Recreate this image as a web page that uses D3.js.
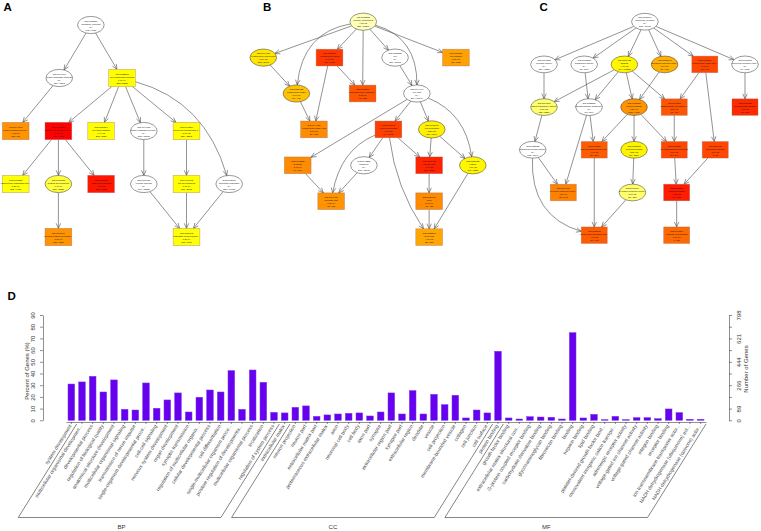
<!DOCTYPE html>
<html><head><meta charset="utf-8">
<script src="https://cdn.jsdelivr.net/npm/d3@7"></script>
<style>body{margin:0;background:#fff}svg{display:block}</style>
</head><body>
<svg id="chart" width="761" height="531"></svg>
<script>
// ================= DATA: panel D (GO term bar chart) =================
const bpTerms = ["system development","multicellular organismal developmen...","developmental process","regulation of biological quality","anatomical structure development","multicellular organismal signaling","transmission of nerve impulse","single-organism developmental proce...","cell-cell signaling","nervous system development","organ development","synaptic transmission","regulation of multicellular organis...","cellular developmental process","cell differentiation","single-multicellular organism proce...","positive regulation of developmenta...","multicellular organismal process","localization","regulation of system process"];
const bpPercent = [31.0,32.8,37.6,24.2,34.5,9.4,8.8,31.9,10.3,17.4,23.4,7.1,19.7,25.9,24.2,42.5,9.4,43.0,32.5,6.8];
const ccTerms = ["extracellular matrix","neuron projection","neuron part","extracellular matrix part","proteinaceous extracellular matrix","axon","neuronal cell body","cell body","axon part","synapse","extracellular region part","synapse part","extracellular region","dendrite","vesicle","cell projection","membrane-bounded vesicle","collagen","cell junction","cell surface"];
const ccPercent = [6.3,11.1,12.3,3.4,4.6,5.4,6.0,6.3,3.7,7.1,23.4,5.4,25.4,5.4,22.2,13.4,21.4,2.0,8.8,6.3];
const mfTerms = ["protein binding","growth factor binding","extracellular matrix structural con...","G-protein coupled receptor binding","carbohydrate derivative binding","glycosaminoglycan binding","fibronectin binding","binding","heparin binding","lipid binding","platelet-derived growth factor bind...","monovalent inorganic cation transpo...","adrenergic receptor activity","voltage-gated ion channel activity","voltage-gated channel activity","integrin binding","receptor binding","ion transmembrane transporter activ...","NADH dehydrogenase (ubiquinone) act...","NADH dehydrogenase (quinone) activ..."];
const mfPercent = [59.0,2.0,1.1,3.1,2.8,2.6,1.1,74.9,2.0,5.1,0.6,3.4,0.6,2.3,2.3,1.4,9.7,6.6,0.9,0.9];
const groupNames = ["BP","CC","MF"];
const percentTicks = [0,10,20,30,40,50,60,70,80,90];
const geneTickLabels = ["0","89","","266","","444","","621","","798"];

// ================= DATA: panels A-C (GO DAGs) =================
// p = p-value (null = not significant / white), top = among top-scoring nodes (drawn as box)
const nodesA = [
 {id:"A1",go:"GO:0008150",term:"biological_process",p:null,n:"792 / 1637",top:false},
 {id:"A2",go:"GO:0044699",term:"single-organism process",p:null,n:"681 / 1302",top:false},
 {id:"A3",go:"GO:0032502",term:"developmental process",p:"1.0e-04",n:"333 / 5288",top:true},
 {id:"A4",go:"GO:0044707",term:"single-multicellular org...",p:"6.3e-09",n:"377 / 55",top:true},
 {id:"A5",go:"GO:0048856",term:"anatomical structure dev...",p:"1.1e-13",n:"306 / 4871",top:true},
 {id:"A6",go:"GO:0030154",term:"cell differentiation",p:"9.4e-05",n:"215 / 3021",top:true},
 {id:"A7",go:"GO:0044763",term:"single-organism cellular...",p:null,n:"563 / 10811",top:false},
 {id:"A8",go:"GO:0048869",term:"cellular developmental p...",p:"8.7e-05",n:"229 / 3262",top:true},
 {id:"A9",go:"GO:0007275",term:"multicellular organismal dev...",p:"1.2e-04",n:"275 / 4105",top:true},
 {id:"A10",go:"GO:0048731",term:"system development",p:"6.9e-04",n:"276 / 3725",top:false},
 {id:"A11",go:"GO:0048513",term:"organ development",p:"4.0e-13",n:"208 / 2468",top:true},
 {id:"A12",go:"GO:0009987",term:"cellular process",p:null,n:"710 / 13858",top:false},
 {id:"A13",go:"GO:0048468",term:"cell development",p:"1.1e-04",n:"151 / 2015",top:true},
 {id:"A14",go:"GO:0065007",term:"biological regulation",p:null,n:"520 / 10026",top:false},
 {id:"A15",go:"GO:0007399",term:"nervous system developm...",p:"5.8e-09",n:"155 / 1829",top:true},
 {id:"A16",go:"GO:0050793",term:"regulation of developme...",p:"1.3e-04",n:"113 / 1450",top:true}
];
const edgesA = [["A1","A2",0],["A1","A3",0],["A2","A4",0],["A3","A5",0],["A3","A6",0],["A3","A7",0],["A3","A8",0],["A3","A14",0.28],
 ["A5","A9",0],["A5","A10",0],["A5","A11",0],["A10","A15",0],["A7","A12",0],["A8","A13",0],["A12","A16",0],["A13","A16",0],["A14","A16",0]];
const layoutA = {A1:[0,1.76],A2:[1,1.02],A3:[1,2.49],A4:[2,0],A5:[2,1],A6:[2,2],A7:[2,3],A8:[2,4],
 A9:[3,0],A10:[3,1],A11:[3,2],A12:[3,3],A13:[3,4],A14:[3,5],A15:[4,1],A16:[4,4]};

const nodesB = [
 {id:"B1",go:"GO:0005575",term:"cellular_component",p:"4.2e-02",n:"826 / 17201",top:false},
 {id:"B2",go:"GO:0044421",term:"extracellular region part",p:"1.0e-05",n:"226 / 2993",top:false},
 {id:"B3",go:"GO:0005576",term:"extracellular region",p:"3.6e-12",n:"245 / 3411",top:true},
 {id:"B4",go:"GO:0005623",term:"cell",p:null,n:"811 / 16611",top:false},
 {id:"B5",go:"GO:0030054",term:"cell junction",p:"2.3e-08",n:"81 / 1037",top:true},
 {id:"B6",go:"GO:0031012",term:"extracellular matrix",p:"5.0e-07",n:"57 / 418",top:false},
 {id:"B7",go:"GO:0005578",term:"proteinaceous extracellul...",p:"2.5e-11",n:"42 / 351",top:true},
 {id:"B8",go:"GO:0044464",term:"cell part",p:null,n:"810 / 16604",top:false},
 {id:"B9",go:"GO:0044420",term:"extracellular matrix part",p:"2.7e-09",n:"31 / 187",top:true},
 {id:"B10",go:"GO:0043005",term:"neuron projection",p:"6.0e-12",n:"99 / 1002",top:true},
 {id:"B11",go:"GO:0042995",term:"cell projection",p:"2.5e-05",n:"119 / 1849",top:false},
 {id:"B12",go:"GO:0045202",term:"synapse",p:"2.7e-09",n:"64 / 671",top:true},
 {id:"B13",go:"GO:0043226",term:"organelle",p:null,n:"598 / 12911",top:false},
 {id:"B14",go:"GO:0097458",term:"neuron part",p:"1.0e-12",n:"109 / 1188",top:true},
 {id:"B15",go:"GO:0031982",term:"vesicle",p:"4.7e-05",n:"197 / 3529",top:false},
 {id:"B16",go:"GO:0044456",term:"synapse part",p:"6.3e-09",n:"48 / 459",top:true},
 {id:"B17",go:"GO:0030424",term:"axon",p:"2.7e-09",n:"48 / 420",top:true},
 {id:"B18",go:"GO:0033267",term:"axon part",p:"4.0e-08",n:"33 / 215",top:true}
];
const edgesB = [["B1","B2",0],["B1","B6",-0.38],["B1","B3",0],["B1","B7",0],["B1","B4",0],["B1","B8",0.38],["B1","B5",0],
 ["B2","B6",0],["B3","B7",0],["B3","B9",0],["B6","B9",0],["B4","B8",0],["B8","B10",0],["B8","B11",0],["B8","B12",0],["B8","B15",0.29],
 ["B10","B13",0],["B10","B14",0],["B10","B16",-0.27],["B10","B18",-0.12],["B11","B14",0],["B11","B15",0],
 ["B12","B16",0],["B13","B16",0],["B14","B17",0],["B17","B18",0],["B15","B18",0]];
const layoutB = {B1:[0,3.02],B2:[1,0],B3:[1,2],B4:[1,3.98],B5:[1,5.82],B6:[2,1],B7:[2,3],B8:[2,4.64],
 B9:[3,1.53],B10:[3,3.78],B11:[3,5.09],B12:[4,1.04],B13:[4,3.04],B14:[4,5.01],B15:[4,6.33],B16:[5,2.05],B17:[5,5.01],B18:[6,5.01]};

const nodesC = [
 {id:"C1",go:"GO:0003674",term:"molecular_function",p:null,n:"808 / 16911",top:false},
 {id:"C2",go:"GO:0004872",term:"receptor activity",p:null,n:"126 / 1883",top:false},
 {id:"C3",go:"GO:0005215",term:"transporter activity",p:null,n:"63 / 1104",top:false},
 {id:"C4",go:"GO:0005488",term:"binding",p:"4.7e-05",n:"664 / 13235",top:false},
 {id:"C5",go:"GO:0005198",term:"structural molecule activ...",p:"1.0e-07",n:"50 / 717",top:false},
 {id:"C6",go:"GO:0005201",term:"extracellular matrix stru...",p:"1.0e-11",n:"22 / 101",top:true},
 {id:"C7",go:"GO:0098772",term:"molecular function regul...",p:null,n:"91 / 1639",top:false},
 {id:"C8",go:"GO:0004871",term:"signal transducer activity",p:"3.6e-03",n:"138 / 2230",top:false},
 {id:"C9",go:"GO:0022857",term:"transmembrane transport...",p:null,n:"51 / 866",top:false},
 {id:"C10",go:"GO:0005515",term:"protein binding",p:"6.3e-09",n:"523 / 9631",top:false},
 {id:"C11",go:"GO:0097367",term:"carbohydrate derivative b...",p:"2.5e-11",n:"48 / 466",top:true},
 {id:"C12",go:"GO:0019838",term:"growth factor binding",p:"1.6e-12",n:"18 / 130",top:true},
 {id:"C13",go:"GO:0038023",term:"signaling receptor activity",p:null,n:"103 / 1549",top:false},
 {id:"C14",go:"GO:0008324",term:"cation transmembrane tra...",p:"4.0e-11",n:"30 / 398",top:true},
 {id:"C15",go:"GO:0005102",term:"receptor binding",p:"3.8e-05",n:"86 / 1369",top:false},
 {id:"C16",go:"GO:0005539",term:"glycosaminoglycan binding",p:"1.0e-11",n:"21 / 194",top:true},
 {id:"C17",go:"GO:0001968",term:"fibronectin binding",p:"1.0e-11",n:"9 / 29",top:true},
 {id:"C18",go:"GO:0004930",term:"G-protein coupled recept...",p:"1.0e-09",n:"55 / 843",top:true},
 {id:"C19",go:"GO:0001664",term:"G-protein coupled recept...",p:"3.6e-03",n:"21 / 271",top:false},
 {id:"C20",go:"GO:0008201",term:"heparin binding",p:"6.3e-13",n:"17 / 153",top:true},
 {id:"C21",go:"GO:0015077",term:"monovalent inorganic cati...",p:"4.0e-11",n:"15 / 148",top:true},
 {id:"C22",go:"GO:0043394",term:"proteoglycan binding",p:"1.0e-10",n:"7 / 28",top:true}
];
const edgesC = [["C1","C2",0],["C1","C3",0],["C1","C4",0],["C1","C5",0],["C1","C6",0],["C1","C7",0],
 ["C2","C8",0],["C3","C9",0],["C4","C8",0],["C4","C9",0],["C4","C10",0],["C4","C11",0],["C5","C10",0],["C6","C11",0],["C6","C17",0],["C7","C12",0],
 ["C8","C13",0],["C9","C18",0],["C9","C14",0],["C10","C14",0],["C10","C15",0],["C10","C16",0],["C11","C16",0],
 ["C13","C18",0],["C13","C21",-0.39],["C14","C21",0],["C15","C19",0],["C16","C20",0],["C17","C20",0],["C19","C21",0],["C20","C22",0]];
const layoutC = {C1:[0,2.51],C2:[1,0],C3:[1,1],C4:[1,2],C5:[1,3],C6:[1,4],C7:[1,5],
 C8:[2,0],C9:[2,1.12],C10:[2,2.24],C11:[2,3.24],C12:[2,5],
 C13:[3,-0.28],C14:[3,1.25],C15:[3,2.24],C16:[3,3.24],C17:[3,4.26],
 C18:[4,0.48],C19:[4,2.2],C20:[4,3.3],C21:[5,1.25],C22:[5,3.3]};

// ================= DRAWING =================
(function(){
const svg = d3.select("#chart");
const FONT = "'Liberation Sans', Arial, Helvetica, sans-serif";

// significance colour scale (-log10 p)
const sigColor = d3.scaleLinear().domain([1,4,7,10,13])
  .range(["#FFFFD2","#FFFF00","#FFB000","#FF6A00","#FF0000"]).clamp(true);

function drawGraph(nodes, edges, layout, xs, ys, box, ell) {
  const g = svg.append("g");
  const pos = {};
  nodes.forEach(n => { pos[n.id] = {x: xs(layout[n.id][1]), y: ys(layout[n.id][0]), n}; });
  function boundary(id, dx, dy) {
    const P = pos[id];
    let t;
    if (P.n.top) t = Math.min(box.w/2/Math.abs(dx||1e-9), box.h/2/Math.abs(dy||1e-9));
    else t = 1/Math.sqrt((dx/ell.rx)**2 + (dy/ell.ry)**2);
    return [P.x + dx*t, P.y + dy*t];
  }
  const eg = g.append("g").attr("fill","none").attr("stroke","#4a4a4a").attr("stroke-width",0.6);
  edges.forEach(([s,t,b]) => {
    const S = pos[s], T = pos[t];
    const dx = T.x - S.x, dy = T.y - S.y;
    const cx = (S.x+T.x)/2 + b*dy, cy = (S.y+T.y)/2 - b*dx;
    const p0 = b === 0 ? boundary(s, dx, dy) : boundary(s, cx - S.x, cy - S.y);
    const p2 = b === 0 ? boundary(t, -dx, -dy) : boundary(t, cx - T.x, cy - T.y);
    const path = d3.path();
    path.moveTo(p0[0], p0[1]);
    if (b === 0) path.lineTo(p2[0], p2[1]);
    else path.quadraticCurveTo(cx, cy, p2[0], p2[1]);
    eg.append("path").attr("d", path.toString());
    const ang = b === 0 ? Math.atan2(p2[1]-p0[1], p2[0]-p0[0]) : Math.atan2(p2[1]-cy, p2[0]-cx);
    const L = 5.5, a = 0.42;
    const h = d3.path();
    h.moveTo(p2[0] - L*Math.cos(ang - a), p2[1] - L*Math.sin(ang - a));
    h.lineTo(p2[0], p2[1]);
    h.lineTo(p2[0] - L*Math.cos(ang + a), p2[1] - L*Math.sin(ang + a));
    eg.append("path").attr("d", h.toString());
  });
  const ng = g.append("g");
  nodes.forEach(n => {
    const P = pos[n.id];
    const fill = n.p === null ? "#FFFFFF" : sigColor(-Math.log10(+n.p));
    if (n.top) {
      ng.append("rect").attr("x", P.x - box.w/2).attr("y", P.y - box.h/2)
        .attr("width", box.w).attr("height", box.h)
        .attr("fill", fill).attr("stroke", "rgba(150,90,90,0.45)").attr("stroke-width", 0.7);
    } else {
      ng.append("ellipse").attr("cx", P.x).attr("cy", P.y).attr("rx", ell.rx).attr("ry", ell.ry)
        .attr("fill", fill).attr("stroke", "#333").attr("stroke-width", 0.5);
    }
    const lines = [n.go, n.term, n.p === null ? "NA" : n.p, n.n];
    const t = ng.append("text").attr("font-family", FONT).attr("font-size", 2.3)
      .attr("text-anchor", "middle").attr("fill", "#111");
    lines.forEach((l, i) => t.append("tspan").attr("x", P.x).attr("y", P.y - 3.3 + i*3).text(l));
  });
}

drawGraph(nodesA, edgesA, layoutA,
  d3.scaleLinear().domain([0,1]).range([15.7, 58.4]),
  d3.scaleLinear().domain([0,1]).range([25, 78]), {w:26.7,h:17.3}, {rx:13.3,ry:8.6});
drawGraph(nodesB, edgesB, layoutB,
  d3.scaleLinear().domain([0,1]).range([263.3, 296.4]),
  d3.scaleLinear().domain([0,1]).range([21.7, 57.6]), {w:26.7,h:16.7}, {rx:13.3,ry:8.6});
drawGraph(nodesC, edgesC, layoutC,
  d3.scaleLinear().domain([0,1]).range([544, 584.2]),
  d3.scaleLinear().domain([0,1]).range([21.7, 64.4]), {w:26,h:16.5}, {rx:13.3,ry:8.4});

// panel letters
[["A",3.5,11],["B",263,11],["C",539.5,11],["D",7.5,300]].forEach(([l,px,py]) =>
  svg.append("text").attr("x",px).attr("y",py).attr("font-family",FONT)
    .attr("font-weight","bold").attr("font-size",11.5).attr("fill","#000").text(l));

// ---------------- Panel D ----------------
const terms = bpTerms.concat(ccTerms, mfTerms);
const percents = bpPercent.concat(ccPercent, mfPercent);
const groups = [bpTerms.length, ccTerms.length, mfTerms.length];

const x = d3.scaleBand().domain(d3.range(terms.length)).range([66, 706])
  .paddingInner(0.375).paddingOuter(0.1875);
const y = d3.scaleLinear().domain([0, 90]).range([420.3, 315]);
const axisColor = "#444";

const dg = svg.append("g");
dg.append("g").selectAll("rect").data(percents).join("rect")
  .attr("x", (d,i) => x(i)).attr("y", d => y(d))
  .attr("width", x.bandwidth()).attr("height", d => y(0) - y(d))
  .attr("fill", "#6600EE").attr("stroke", "#7d3cf0").attr("stroke-width", 0.5);

const la = dg.append("g").attr("transform", "translate(43,0)")
  .call(d3.axisLeft(y).tickValues(percentTicks).tickSize(3).tickSizeOuter(0));
la.select(".domain").attr("stroke", axisColor).attr("stroke-width", 0.6);
la.selectAll(".tick line").attr("stroke", axisColor).attr("stroke-width", 0.6);
la.selectAll(".tick text").attr("font-family", FONT).attr("font-size", 6).attr("fill", "#333")
  .attr("transform", "rotate(-90)").attr("x", 0).attr("y", -8).attr("dy", 0).attr("text-anchor", "middle");

const ra = dg.append("g").attr("transform", "translate(729,0)")
  .call(d3.axisRight(y).tickValues(percentTicks).tickSize(3).tickSizeOuter(0)
    .tickFormat((d,i) => geneTickLabels[i]));
ra.select(".domain").attr("stroke", axisColor).attr("stroke-width", 0.6);
ra.selectAll(".tick line").attr("stroke", axisColor).attr("stroke-width", 0.6);
ra.selectAll(".tick text").attr("font-family", FONT).attr("font-size", 6).attr("fill", "#333")
  .attr("transform", "rotate(-90)").attr("x", 0).attr("y", 11.5).attr("dy", 0).attr("text-anchor", "middle");

dg.append("text").attr("transform", "translate(29,371) rotate(-90)").attr("text-anchor", "middle")
  .attr("font-family", FONT).attr("font-size", 6).attr("fill", "#333").text("Percent of Genes (%)");
dg.append("text").attr("transform", "translate(747.5,369) rotate(-90)").attr("text-anchor", "middle")
  .attr("font-family", FONT).attr("font-size", 6).attr("fill", "#333").text("Number of Genes");

const ba = dg.append("g").attr("transform", "translate(0,422)")
  .call(d3.axisBottom(x).tickSize(2).tickSizeOuter(0).tickFormat(""));
ba.select(".domain").attr("stroke", axisColor).attr("stroke-width", 0.6);
ba.selectAll(".tick line").attr("stroke", axisColor).attr("stroke-width", 0.6);

const ANG = 58;
dg.append("g").selectAll("text").data(terms).join("text")
  .attr("transform", (d,i) => `translate(${x(i) + x.bandwidth()/2 - 1},425) rotate(${-ANG})`)
  .attr("text-anchor", "end").attr("dy", "0.35em")
  .attr("font-family", FONT).attr("font-size", 5).attr("fill", "#444").text(d => d);

const yTop = 424, yBottom = 517.5;
const slant = (yBottom - yTop) / Math.tan(ANG * Math.PI / 180);
let startIdx = 0;
groups.forEach((cnt, gi) => {
  const first = startIdx, last = startIdx + cnt - 1;
  const xl = x(first) + x.step()/2 + x.bandwidth()/2, xr = x(last) + x.step()/2 + x.bandwidth()/2;
  const p = d3.path();
  p.moveTo(xl, yTop); p.lineTo(xl - slant, yBottom); p.lineTo(xr - slant, yBottom); p.lineTo(xr, yTop);
  dg.append("path").attr("d", p.toString()).attr("fill", "none").attr("stroke", "#333").attr("stroke-width", 0.6);
  dg.append("text").attr("x", (xl + xr)/2 - slant + (gi === 0 ? 2 : 0)).attr("y", 528.5).attr("text-anchor", "middle")
    .attr("font-family", FONT).attr("font-size", 6).attr("fill", "#333").text(groupNames[gi]);
  startIdx += cnt;
});
})();
</script>
</body></html>
